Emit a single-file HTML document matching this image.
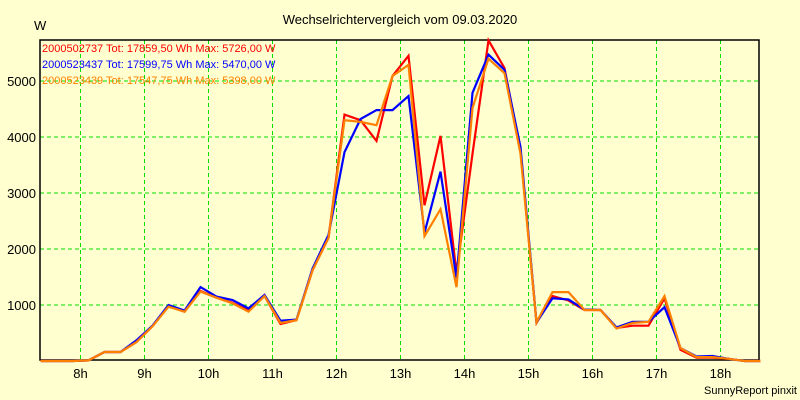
<!DOCTYPE html>
<html><head><meta charset="utf-8"><style>
html,body{margin:0;padding:0;background:#ffffd0;}
svg{display:block;font-family:"Liberation Sans",sans-serif;}
</style></head><body>
<svg id="chart" width="800" height="400" viewBox="0 0 800 400">
<rect x="0" y="0" width="800" height="400" fill="#ffffd0"/>
<text x="400" y="24" text-anchor="middle" font-size="13" fill="#000">Wechselrichtervergleich vom 09.03.2020</text>
<text x="34" y="30" font-size="13" fill="#000">W</text>
<g id="grid"></g>
<g id="axes"></g>
<g id="series"></g>
<text x="42" y="52" font-size="11" fill="#ff0000">2000502737 Tot: 17859,50 Wh Max: 5726,00 W</text>
<text x="42" y="68" font-size="11" fill="#0000ff">2000523437 Tot: 17599,75 Wh Max: 5470,00 W</text>
<text x="42" y="84" font-size="11" fill="#ff8000">2000523439 Tot: 17547,75 Wh Max: 5398,00 W</text>
<text x="797" y="394" text-anchor="end" font-size="11" fill="#000">SunnyReport pinxit</text>
</svg>
<script>
const hourTicks = [8,9,10,11,12,13,14,15,16,17,18];
const valueTicks = [1000,2000,3000,4000,5000];
const startHour = 7.375;
const stepHour = 0.25;
const red2737 = [0,0,0,10,160,160,340,620,980,880,1250,1130,1040,900,1160,660,730,1620,2200,4400,4300,3930,5090,5450,2780,4020,1570,3700,5726,5230,3750,680,1160,1080,910,910,590,630,630,1120,200,60,60,40,0,0];
const blue3437 = [0,0,0,10,160,160,370,630,1000,900,1320,1150,1090,940,1180,720,740,1650,2250,3730,4320,4480,4480,4730,2290,3380,1480,4790,5470,5200,3820,690,1120,1100,920,910,600,700,700,960,230,80,90,40,0,0];
const orange3439 = [0,0,0,10,160,160,340,620,970,880,1240,1130,1030,880,1160,680,730,1620,2200,4300,4270,4210,5090,5290,2230,2710,1320,4520,5398,5140,3700,690,1230,1230,910,910,580,680,700,1160,230,70,70,40,0,0];

const NS = 'http://www.w3.org/2000/svg';
const L = 40, R = 759, T = 40, B = 360;
function xScale(h){ return 80.5 + (h - 8) * 64; }
function yScale(v){ return 361 - v * 0.056; }
function mk(tag, attrs, parent){ const e = document.createElementNS(NS, tag); for (const k in attrs) e.setAttribute(k, attrs[k]); parent.appendChild(e); return e; }

const grid = document.getElementById('grid');
const axes = document.getElementById('axes');
const series = document.getElementById('series');

hourTicks.forEach(h => {
  const x = xScale(h);
  const g = mk('line', {x1:x, x2:x, y1:T, y2:B, stroke:'#00e000', 'stroke-width':1, 'stroke-dasharray':'4,3'}, grid);
  
  
  const t = mk('text', {x:x, y:378, 'text-anchor':'middle', 'font-size':13, fill:'#000'}, axes);
  t.textContent = h + 'h';
  
  
});
valueTicks.forEach(v => {
  const y = yScale(v);
  const g = mk('line', {x1:L, x2:R, y1:y, y2:y, stroke:'#00e000', 'stroke-width':1, 'stroke-dasharray':'4,3'}, grid);
  
  
  const t = mk('text', {x:36, y:y + 5, 'text-anchor':'end', 'font-size':13, fill:'#000'}, axes);
  t.textContent = v;
  
  
});
const frame = mk('rect', {x:L, y:T, width:R - L, height:B - T, fill:'none', stroke:'#000', 'stroke-width':1.5}, axes);



function drawSeries(vals, color, name){
  const pts = vals.map((v, i) => xScale(startHour + i * stepHour).toFixed(1) + ',' + yScale(v).toFixed(1)).join(' ');
  const p = mk('polyline', {points:pts, fill:'none', stroke:color, 'stroke-width':2.2, 'stroke-linejoin':'miter'}, series);
  
  
}
drawSeries(red2737, '#ff0000', 'series-2000502737');
drawSeries(blue3437, '#0000ff', 'series-2000523437');
drawSeries(orange3439, '#ff8000', 'series-2000523439');
</script>
</body></html>
